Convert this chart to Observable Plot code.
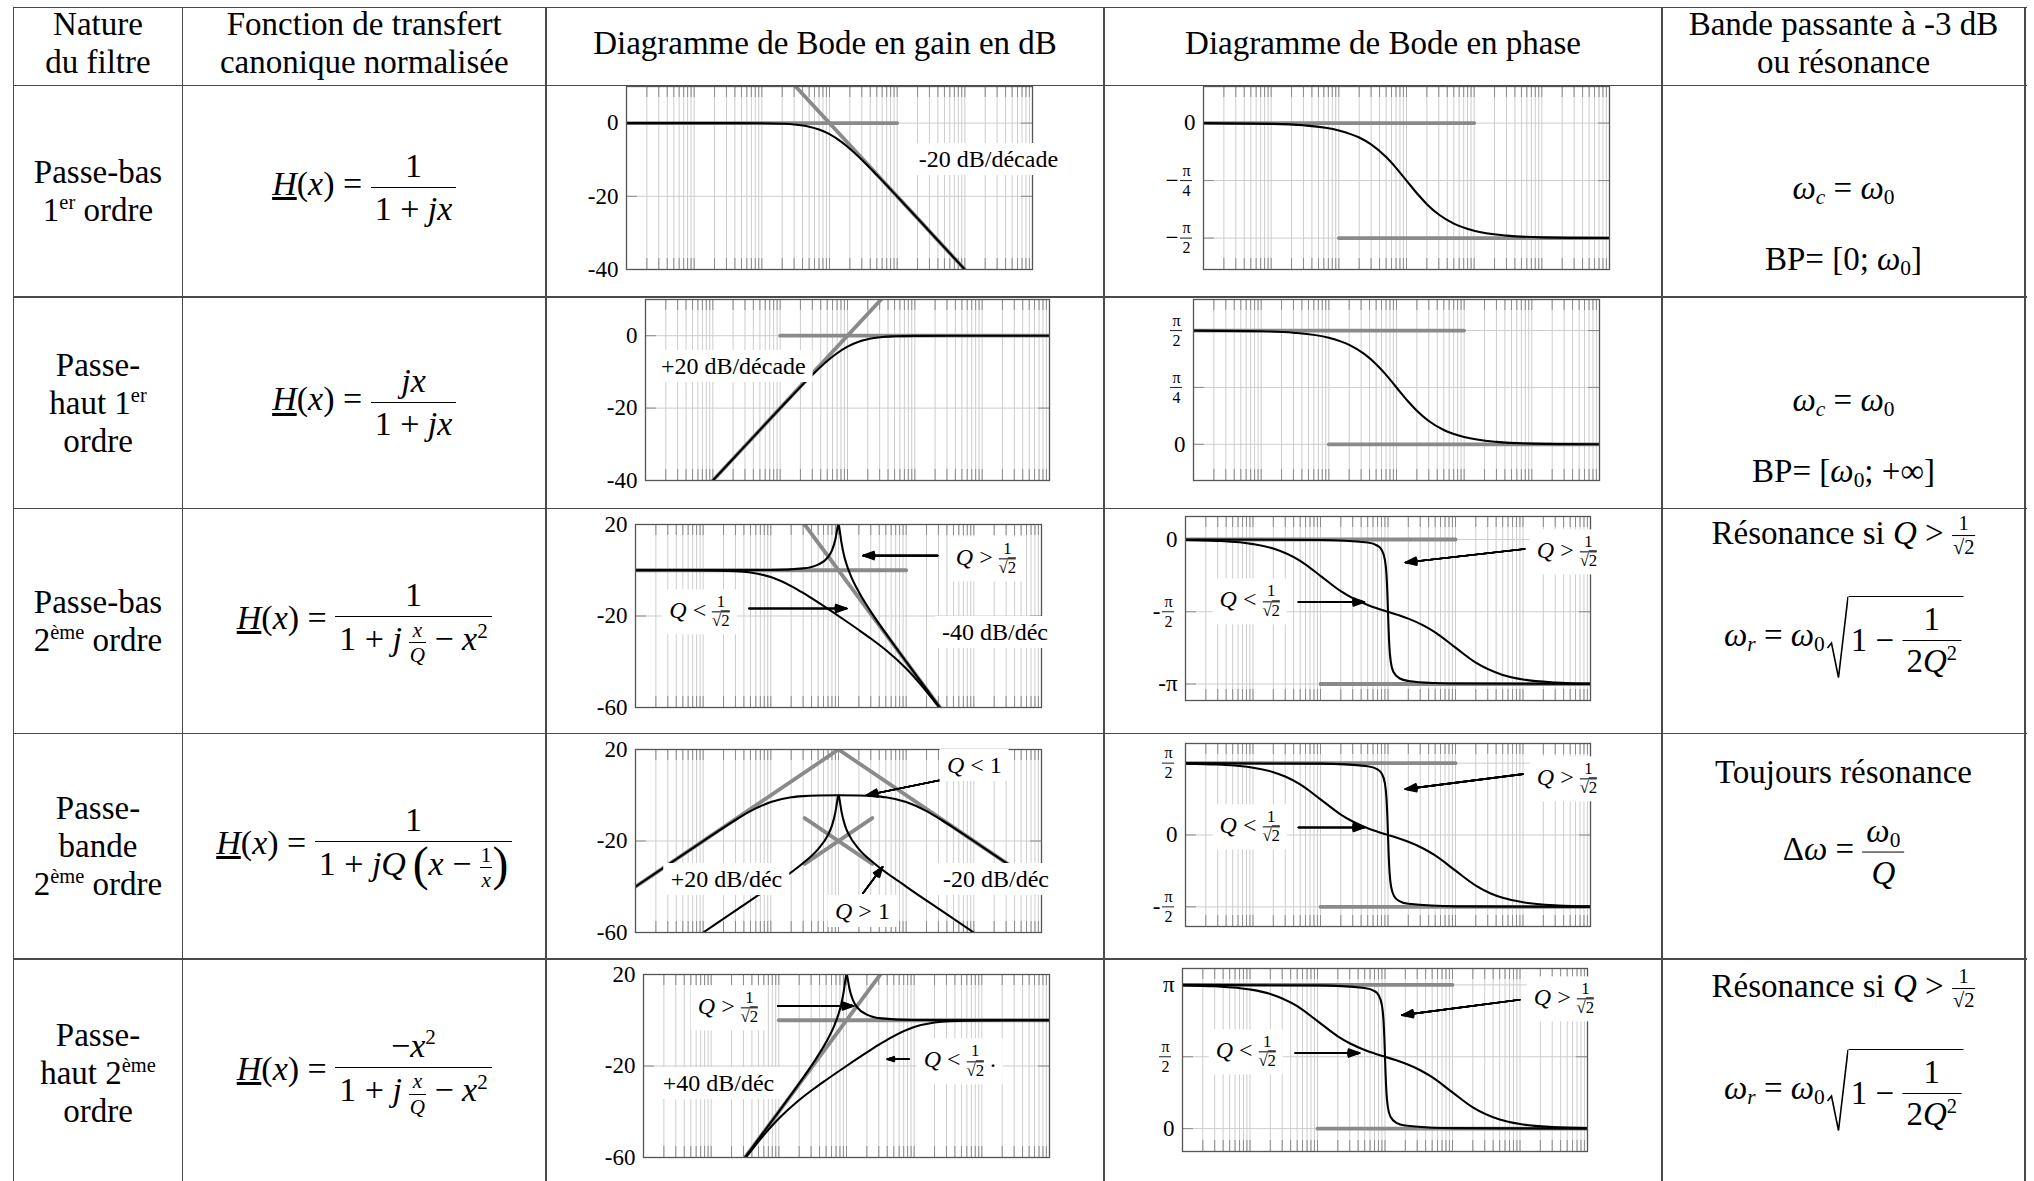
<!DOCTYPE html>
<html><head><meta charset="utf-8">
<script src="https://cdn.jsdelivr.net/npm/d3@7"></script>
<script src="https://cdn.jsdelivr.net/npm/@observablehq/plot@0.6"></script>
<style>
html,body{margin:0;padding:0;background:#fff}
#page{position:relative;width:2034px;height:1181px;overflow:hidden;background:#fff;font-family:"Liberation Serif","DejaVu Serif",serif;color:#000}
.hl{position:absolute;height:1.6px;background:#4a4a4a}
.vl{position:absolute;width:1.6px;background:#4a4a4a}
.cell{position:absolute;display:flex;align-items:center;justify-content:center;text-align:center;font-size:33px;line-height:38px}
.cell.m{font-size:34px}
.cell.h>div{transform:translateY(-4px)}
.ln{position:absolute;transform:translate(-50%,-50%);white-space:nowrap;font-size:33px;line-height:1}
.fr{display:inline-flex;flex-direction:column;vertical-align:middle;text-align:center;line-height:1.12}
.fr>.n{border-bottom:1.6px solid #000;padding:0 4px 2px}
.fr>.d{padding:2px 4px 0}
.fr.s{font-size:0.62em;line-height:1.05}
.fr.s>.n{border-bottom-width:1px;padding:0 1px 1px}
.fr.s>.d{padding:1px 1px 0}
sup{font-size:0.62em;vertical-align:0.6em;line-height:0}
sub{font-size:0.65em;vertical-align:-0.25em;line-height:0}
.bp{font-size:1.4em;vertical-align:-0.1em;line-height:0;font-weight:300}
.ov{border-top:1px solid #000}
.sq{display:inline-flex;vertical-align:middle;align-items:stretch;margin-left:2px}
.sq svg{width:22px;height:84px;display:block}
.sq .si{border-top:1.6px solid #000;padding:3px 2px 0 2px;display:inline-flex;align-items:center}
.lab{position:absolute;transform:translate(-50%,-50%);background:#fff;padding:4px 7px;font-size:24px;line-height:1;white-space:nowrap}
.lf{display:inline-flex;flex-direction:column;vertical-align:middle;font-size:0.7em;line-height:1.08;text-align:center;margin-left:0.35em}
.lf>span:first-child{border-bottom:1px solid #000;padding:0 2px}
</style></head><body><div id="page"></div>
<script>
// ---------- data (x = ω/ω0, gain in dB, phase in rad) ----------
const g1Curve = [[0.001,0],[0.01,0],[0.1,-0.04],[0.2,-0.17],[0.3,-0.37],[0.5,-0.97],[0.7,-1.73],[1,-3.01],[1.5,-5.12],[2,-6.99],[3,-10],[5,-14.15],[7,-16.99],[10,-20.04],[20,-26.02],[50,-33.98],[100,-40]];
const g1AsymFlat = [[0.001,0],[10,0]];
const g1AsymSlope = [[0.316,10],[100,-40]];
const p1Curve = [[0.001,0],[0.01,-0.01],[0.03,-0.03],[0.1,-0.0997],[0.2,-0.197],[0.3,-0.291],[0.5,-0.464],[0.7,-0.611],[1,-0.785],[1.5,-0.983],[2,-1.107],[3,-1.249],[5,-1.373],[10,-1.471],[30,-1.537],[100,-1.561],[1000,-1.570]];
const p1AsymLow = [[0.001,0],[10,0]];
const p1AsymHigh = [[0.1,-1.5708],[1000,-1.5708]];

const g2Curve = [[0.01,-40],[0.02,-34],[0.05,-26.03],[0.1,-20.04],[0.2,-14.15],[0.333,-10],[0.5,-6.99],[0.667,-5.12],[1,-3.01],[1.43,-1.73],[2,-0.97],[3.33,-0.37],[5,-0.17],[10,-0.04],[100,0],[1000,0]];
const g2AsymFlat = [[0.1,0],[1000,0]];
const g2AsymSlope = [[0.01,-40],[3.16,10]];
const p2Curve = [[0.001,1.570],[0.01,1.561],[0.03,1.541],[0.1,1.471],[0.2,1.373],[0.333,1.249],[0.5,1.107],[0.667,0.983],[1,0.785],[1.5,0.588],[2,0.464],[3,0.322],[5,0.197],[10,0.0997],[30,0.033],[100,0.01],[1000,0.001]];
const p2AsymLow = [[0.001,1.5708],[10,1.5708]];
const p2AsymHigh = [[0.1,0],[1000,0]];

const g3HighQ = [[0.001,0],[0.1,0.09],[0.3,0.81],[0.5,2.48],[0.7,5.77],[0.8,8.66],[0.9,13.55],[0.95,17.32],[0.98,19.52],[1,20],[1.02,19.19],[1.05,16.67],[1.1,12.5],[1.2,6.82],[1.3,3.07],[1.5,-2.0],[2,-9.56],[3,-18.07],[5,-27.6],[10,-39.9],[20,-52.0],[30,-59.08],[40,-64.1]];
const g3LowQ = [[0.001,0],[0.01,-0.04],[0.03,-0.37],[0.05,-0.95],[0.1,-2.97],[0.2,-6.92],[0.3,-9.92],[0.5,-14.08],[1,-20],[2,-26.12],[3,-29.84],[5,-34.88],[10,-42.97],[20,-52.99],[30,-59.53],[40,-64.3]];
const g3AsymFlat = [[0.001,0],[10,0]];
const g3AsymSlope = [[0.316,20],[31.6,-60]];
const p3HighQ = [[0.001,0],[0.1,-0.0101],[0.5,-0.0666],[0.7,-0.136],[0.8,-0.219],[0.9,-0.442],[0.95,-0.772],[0.98,-1.187],[1,-1.571],[1.02,-1.948],[1.05,-2.345],[1.1,-2.66],[1.2,-2.875],[1.5,-3.022],[2,-3.075],[5,-3.121],[10,-3.131],[1000,-3.1416]];
const p3LowQ = [[0.001,-0.01],[0.003,-0.03],[0.01,-0.1],[0.02,-0.197],[0.05,-0.464],[0.1,-0.79],[0.2,-1.123],[0.3,-1.276],[0.5,-1.422],[0.7,-1.498],[1,-1.571],[1.43,-1.644],[2,-1.72],[3.33,-1.866],[5,-2.018],[10,-2.351],[20,-2.677],[50,-2.943],[100,-3.042],[300,-3.108],[1000,-3.132]];
const p3AsymLow = [[0.001,0],[10,0]];
const p3AsymHigh = [[0.1,-3.1416],[1000,-3.1416]];

const g4LowQ = [[0.001,-40],[0.003,-30.46],[0.01,-20.04],[0.02,-14.15],[0.03,-10.82],[0.05,-6.97],[0.1,-2.97],[0.2,-0.9],[0.3,-0.38],[0.5,-0.1],[1,0],[2,-0.1],[3.33,-0.38],[5,-0.9],[10,-2.97],[20,-6.97],[33.3,-10.82],[50,-14.15],[100,-20.04],[333,-30.46],[1000,-40]];
const g4HighQ = [[0.01,-60],[0.03,-50.45],[0.1,-39.91],[0.3,-29.64],[0.5,-23.54],[0.7,-17.33],[0.8,-13.27],[0.9,-7.37],[0.95,-3.12],[0.98,-0.66],[1,0],[1.02,-0.66],[1.053,-3.12],[1.111,-7.37],[1.25,-13.27],[1.43,-17.33],[2,-23.54],[3.33,-29.64],[10,-39.91],[33.3,-50.45],[100,-60]];
const g4AsymLowQ = [[0.001,-40],[1,20],[1000,-40]];
const g4AsymHighQUp = [[0.316,-30],[3.16,-10]];
const g4AsymHighQDown = [[0.316,-10],[3.16,-30]];
const p4HighQ = [[0.001,1.5708],[0.1,1.5607],[0.5,1.5042],[0.7,1.4344],[0.8,1.3521],[0.9,1.1284],[0.95,0.7983],[0.98,0.3842],[1,0],[1.02,-0.3842],[1.053,-0.7983],[1.111,-1.1284],[1.25,-1.3521],[1.43,-1.4344],[2,-1.5042],[10,-1.5607],[1000,-1.5708]];
const p4LowQ = [[0.001,1.5608],[0.003,1.5408],[0.01,1.4711],[0.02,1.3734],[0.03,1.2793],[0.05,1.1063],[0.1,0.7803],[0.2,0.4475],[0.3,0.2945],[0.5,0.1489],[0.7,0.0727],[1,0],[1.43,-0.0727],[2,-0.1489],[3.33,-0.2945],[5,-0.4475],[10,-0.7803],[20,-1.1063],[33.3,-1.2793],[50,-1.3734],[100,-1.4711],[333,-1.5408],[1000,-1.5608]];
const p4AsymLow = [[0.001,1.5708],[10,1.5708]];
const p4AsymHigh = [[0.1,-1.5708],[1000,-1.5708]];

const g5HighQ = [[0.025,-64.1],[0.0333,-59.08],[0.05,-52.0],[0.1,-39.9],[0.2,-27.6],[0.333,-18.07],[0.5,-9.56],[0.667,-2.0],[0.769,3.07],[0.833,6.82],[0.909,12.5],[0.952,16.67],[0.98,19.19],[1,20],[1.02,19.52],[1.053,17.32],[1.111,13.55],[1.25,8.66],[1.43,5.77],[2,2.48],[3.33,0.81],[10,0.09],[1000,0]];
const g5LowQ = [[0.025,-64.3],[0.0333,-59.53],[0.05,-52.99],[0.1,-42.97],[0.2,-34.88],[0.333,-29.84],[0.5,-26.12],[1,-20],[2,-14.08],[3.33,-9.92],[5,-6.92],[10,-2.97],[20,-0.95],[33.3,-0.37],[100,-0.04],[1000,0]];
const g5AsymFlat = [[0.1,0],[1000,0]];
const g5AsymSlope = [[0.0316,-60],[3.16,20]];
const p5HighQ = [[0.001,3.1416],[0.1,3.1315],[0.5,3.075],[0.7,3.0056],[0.8,2.9226],[0.9,2.6996],[0.95,2.3696],[0.98,1.9546],[1,1.5708],[1.02,1.1936],[1.05,0.7966],[1.1,0.4816],[1.2,0.2666],[1.5,0.1196],[2,0.0666],[5,0.0206],[10,0.0101],[1000,0]];
const p5LowQ = [[0.001,3.1316],[0.003,3.1116],[0.01,3.0416],[0.02,2.9442],[0.05,2.6773],[0.1,2.3512],[0.2,2.0183],[0.3,1.8655],[0.5,1.7197],[0.7,1.6435],[1,1.5708],[1.43,1.4981],[2,1.4219],[3.33,1.2761],[5,1.1233],[10,0.7904],[20,0.4643],[50,0.1987],[100,0.1],[300,0.0336],[1000,0.01]];
const p5AsymLow = [[0.001,3.1416],[10,3.1416]];
const p5AsymHigh = [[0.1,0],[1000,0]];

// tick labels
const ticksG1 = [{v:0,t:"0"},{v:-20,t:"-20"},{v:-40,t:"-40"}];
const ticksG3 = [{v:20,t:"20"},{v:-20,t:"-20"},{v:-60,t:"-60"}];
const ticksP1 = [{v:0,t:"0"},{v:-0.7854,n:"π",d:"4",p:"−"},{v:-1.5708,n:"π",d:"2",p:"−"}];
const ticksP2 = [{v:1.5708,n:"π",d:"2"},{v:0.7854,n:"π",d:"4"},{v:0,t:"0"}];
const ticksP3 = [{v:0,t:"0"},{v:-1.5708,n:"π",d:"2",p:"-"},{v:-3.1416,t:"-π"}];
const ticksP4 = [{v:1.5708,n:"π",d:"2"},{v:0,t:"0"},{v:-1.5708,n:"π",d:"2",p:"-"}];
const ticksP5 = [{v:3.1416,t:"π"},{v:1.5708,n:"π",d:"2"},{v:0,t:"0"}];

// log grid (1..9 × 10^k)
const gridX = [];
for (let d = -3; d <= 2; d++) for (let k = 1; k <= 9; k++) gridX.push(+(k * 10 ** d).toPrecision(3));
gridX.push(1000);

// ---------- helpers ----------
const page = document.getElementById("page");
function el(cls, style, html) {
  const e = document.createElement("div");
  e.className = cls;
  Object.assign(e.style, style);
  if (html != null) e.innerHTML = html;
  page.appendChild(e);
  return e;
}
const fr = (n, d) => `<span class="fr"><span class="n">${n}</span><span class="d">${d}</span></span>`;
const sfr = (n, d) => `<span class="fr s"><span class="n">${n}</span><span class="d">${d}</span></span>`;
const lf = (n, d) => `<span class="lf"><span>${n}</span><span>${d}</span></span>`;
const R2 = `√<span class="ov">2</span>`;
const sqrt = inner => `<span class="sq"><svg viewBox="0 0 22 100" preserveAspectRatio="none"><polyline points="1,62 5,56 12,97 21.5,1" fill="none" stroke="#000" stroke-width="1.6" vector-effect="non-scaling-stroke"/></svg><span class="si">${inner}</span></span>`;
const EQ = "&nbsp;=&nbsp;";
const Hx = `<span style="text-decoration:underline"><i>H</i></span>(<i>x</i>)${EQ}`;
const QG = `<i>Q</i>&nbsp;&gt;${lf("1", R2)}`;
const QL = `<i>Q</i>&nbsp;&lt;${lf("1", R2)}`;

// ---------- table ----------
const cols = [13.5, 182.5, 546, 1104, 1662, 2025];
const rows = [7.5, 85.5, 297, 508.5, 733.5, 959, 1186];
for (let i = 0; i < 6; i++) el("hl", {left: cols[0] + "px", top: rows[i] - 0.8 + "px", width: cols[5] - cols[0] + 1.6 + "px"});
for (const c of cols) el("vl", {left: c - 0.8 + "px", top: rows[0] - 0.8 + "px", height: 1181 - rows[0] + 2 + "px"});

function cell(ci, ri, html, cls) {
  el("cell" + (cls ? " " + cls : ""), {left: cols[ci] + "px", top: rows[ri] + "px", width: cols[ci + 1] - cols[ci] + "px", height: rows[ri + 1] - rows[ri] + "px"}, "<div>" + html + "</div>");
}
cell(0, 0, "Nature<br>du filtre", "h");
cell(1, 0, "Fonction de transfert<br>canonique normalisée", "h");
cell(2, 0, "Diagramme de Bode en gain en dB", "h");
cell(3, 0, "Diagramme de Bode en phase", "h");
cell(4, 0, "Bande passante à -3 dB<br>ou résonance", "h");

cell(0, 1, "Passe-bas<br>1<sup>er</sup> ordre");
cell(0, 2, "Passe-<br>haut 1<sup>er</sup><br>ordre");
cell(0, 3, "Passe-bas<br>2<sup>ème</sup> ordre");
cell(0, 4, "Passe-<br>bande<br>2<sup>ème</sup> ordre");
cell(0, 5, "Passe-<br>haut 2<sup>ème</sup><br>ordre");

cell(1, 1, Hx + fr("1", "1 + <i>jx</i>"), "m h");
cell(1, 2, Hx + fr("<i>jx</i>", "1 + <i>jx</i>"), "m");
cell(1, 3, Hx + fr("1", "1 + <i>j</i>&thinsp;" + sfr("<i>x</i>", "<i>Q</i>") + " − <i>x</i><sup>2</sup>"), "m");
cell(1, 4, Hx + fr("1", "1 + <i>jQ</i>&thinsp;<span class='bp'>(</span><i>x</i> − " + sfr("1", "<i>x</i>") + "<span class='bp'>)</span>"), "m");
cell(1, 5, Hx + fr("−<i>x</i><sup>2</sup>", "1 + <i>j</i>&thinsp;" + sfr("<i>x</i>", "<i>Q</i>") + " − <i>x</i><sup>2</sup>"), "m");

const cx5 = (cols[4] + cols[5]) / 2;
function line(y, html) { el("ln", {left: cx5 + "px", top: y + "px"}, html); }
const wc = `<i>ω</i><sub><i>c</i></sub>${EQ}<i>ω</i><sub>0</sub>`;
const wr = `<i>ω</i><sub><i>r</i></sub>${EQ}<i>ω</i><sub>0</sub>` + sqrt("1&nbsp;−&nbsp;" + fr("1", "2<i>Q</i><sup>2</sup>"));
const reso = `Résonance si <i>Q</i> &gt; ` + sfr("1", R2);
line(188, wc);
line(259, `BP= [0; <i>ω</i><sub>0</sub>]`);
line(400, wc);
line(471, `BP= [<i>ω</i><sub>0</sub>; +∞]`);
line(536, reso);
line(638, wr);
line(772, "Toujours résonance");
line(852, `Δ<i>ω</i>${EQ}` + fr(`<i>ω</i><sub>0</sub>`, `<i>Q</i>`));
line(989, reso);
line(1091, wr);

// ---------- Bode panels ----------
const xy = {x: d => d[0], y: d => d[1]};
function panel(s) {
  const mL = 90, mR = 12, mT = 6, mB = 6;
  const dec = s.W / 6, tl = 11;
  const tY = tl / s.H * (s.hi - s.lo), tX = 10 ** (tl / dec);
  const tv = s.ticks.map(t => t.v);
  const plain = s.ticks.filter(t => t.t !== undefined);
  const fracs = s.ticks.filter(t => t.n !== undefined);
  const pres = fracs.filter(t => t.p);
  const arrows = s.arrows || [];
  const arrowOpts = {x1: "x1", y1: "y1", x2: "x2", y2: "y2", stroke: "#000", strokeWidth: 1.6, headLength: 11};
  const marks = [
    Plot.ruleX(gridX, {y1: s.lo, y2: s.hi, stroke: "#cdcdcd", strokeWidth: 1}),
    Plot.ruleY(tv, {x1: 1e-3, x2: 1e3, stroke: "#cdcdcd", strokeWidth: 1}),
    Plot.ruleX(gridX, {y1: s.hi, y2: s.hi - tY, stroke: "#8c8c8c", strokeWidth: 1}),
    Plot.ruleX(gridX, {y1: s.lo, y2: s.lo + tY, stroke: "#8c8c8c", strokeWidth: 1}),
    Plot.ruleY(tv, {x1: 1e-3, x2: 1e-3 * tX, stroke: "#8c8c8c", strokeWidth: 1}),
    Plot.ruleY(tv, {x1: 1e3 / tX, x2: 1e3, stroke: "#8c8c8c", strokeWidth: 1}),
    ...s.asym.map(a => Plot.line(a, {...xy, stroke: "#8a8a8a", strokeWidth: 3.8, clip: true})),
    ...s.curves.map(c => Plot.line(c, {...xy, curve: "monotone-x", stroke: "#000", strokeWidth: 2.1, clip: true})),
    Plot.frame({stroke: "#555", strokeWidth: 1.3}),
    Plot.text(plain, {y: "v", text: "t", frameAnchor: "left", textAnchor: "end", dx: -8, fontSize: 23}),
    Plot.text(fracs, {y: "v", text: "n", frameAnchor: "left", textAnchor: "middle", dx: -17, dy: -10, fontSize: 16}),
    Plot.text(fracs, {y: "v", text: "d", frameAnchor: "left", textAnchor: "middle", dx: -17, dy: 10, fontSize: 16}),
    Plot.ruleY(fracs, {y: "v", x1: 1e-3 * 10 ** (-23 / dec), x2: 1e-3 * 10 ** (-11 / dec), stroke: "#000", strokeWidth: 0.9}),
    Plot.text(pres, {y: "v", text: "p", frameAnchor: "left", textAnchor: "end", dx: -25, fontSize: 23}),
    // filled-looking arrow heads: a fan of heads with decreasing opening angle
    ...[40, 30, 20, 10, 3].map(a => Plot.arrow(arrows, {...arrowOpts, headAngle: a}))
  ];
  const svg = Plot.plot({
    width: s.W + mL + mR, height: s.H + mT + mB,
    marginLeft: mL, marginRight: mR, marginTop: mT, marginBottom: mB,
    x: {type: "log", domain: [1e-3, 1e3], axis: null},
    y: {domain: [s.lo, s.hi], axis: null},
    style: {fontFamily: '"Liberation Serif", "DejaVu Serif", serif', fontSize: "22px", background: "transparent", overflow: "visible", color: "#000"},
    marks
  });
  const left = s.L - mL, top = s.T - mT;
  svg.style.position = "absolute";
  svg.style.left = left + "px";
  svg.style.top = top + "px";
  page.appendChild(svg);
  const sx = svg.scale("x"), sy = svg.scale("y");
  for (const l of (s.labels || [])) {
    el("lab", {left: left + sx.apply(l.x) + "px", top: top + sy.apply(l.y) + "px"}, l.h);
  }
}

panel({L: 626.4, T: 86, W: 406, H: 183, lo: -40, hi: 10, ticks: ticksG1,
  asym: [g1AsymFlat, g1AsymSlope], curves: [g1Curve],
  labels: [{x: 224, y: -10, h: "-20 dB/décade"}]});
panel({L: 1203.3, T: 86, W: 406, H: 183, lo: -2, hi: 0.5, ticks: ticksP1,
  asym: [p1AsymLow, p1AsymHigh], curves: [p1Curve]});
panel({L: 644.7, T: 299, W: 404, H: 181, lo: -40, hi: 10, ticks: ticksG1,
  asym: [g2AsymFlat, g2AsymSlope], curves: [g2Curve],
  labels: [{x: 0.0207, y: -8.5, h: "+20 dB/décade"}]});
panel({L: 1193.4, T: 299, W: 406, H: 181, lo: -0.5, hi: 2, ticks: ticksP2,
  asym: [p2AsymLow, p2AsymHigh], curves: [p2Curve]});
panel({L: 634.6, T: 524, W: 406, H: 183, lo: -60, hi: 20, ticks: ticksG3,
  asym: [g3AsymFlat, g3AsymSlope], curves: [g3LowQ, g3HighQ],
  labels: [{x: 156, y: 4.7, h: QG}, {x: 0.0091, y: -18.5, h: QL}, {x: 212, y: -27.2, h: "-40 dB/déc"}],
  arrows: [{x1: 29.3, y1: 6.4, x2: 2.3, y2: 6.4}, {x1: 0.0474, y1: -16.7, x2: 1.33, y2: -16.7}]});
panel({L: 1185.4, T: 516, W: 405, H: 184, lo: -3.5, hi: 0.5, ticks: ticksP3,
  asym: [p3AsymLow, p3AsymHigh], curves: [p3LowQ, p3HighQ],
  labels: [{x: 451, y: -0.287, h: QG}, {x: 0.009, y: -1.358, h: QL}],
  arrows: [{x1: 106, y1: -0.206, x2: 1.81, y2: -0.499}, {x1: 0.0471, y1: -1.358, x2: 0.447, y2: -1.358}]});
panel({L: 634.6, T: 749.3, W: 406, H: 183, lo: -60, hi: 20, ticks: ticksG3,
  asym: [g4AsymLowQ, g4AsymHighQUp, g4AsymHighQDown], curves: [g4LowQ, g4HighQ],
  labels: [{x: 105, y: 13.1, h: "<i>Q</i> &lt; 1"}, {x: 0.0228, y: -36.7, h: "+20 dB/déc"}, {x: 219, y: -36.7, h: "-20 dB/déc"}, {x: 2.33, y: -50.7, h: "<i>Q</i> &gt; 1"}],
  arrows: [{x1: 31.5, y1: 6.58, x2: 2.59, y2: 0}, {x1: 2.3, y1: -42.8, x2: 4.49, y2: -31.3}]});
panel({L: 1185.4, T: 742.7, W: 405, H: 183, lo: -2, hi: 2, ticks: ticksP4,
  asym: [p4AsymLow, p4AsymHigh], curves: [p4LowQ, p4HighQ],
  labels: [{x: 451, y: 1.207, h: QG}, {x: 0.009, y: 0.157, h: QL}],
  arrows: [{x1: 99.5, y1: 1.331, x2: 1.81, y2: 1.003}, {x1: 0.0471, y1: 0.164, x2: 0.447, y2: 0.164}]});
panel({L: 643.1, T: 974.3, W: 406, H: 183, lo: -60, hi: 20, ticks: ticksG3,
  asym: [g5AsymFlat, g5AsymSlope], curves: [g5LowQ, g5HighQ],
  labels: [{x: 0.018, y: 5.48, h: QG}, {x: 48.1, y: -18.1, h: QL + " ."}, {x: 0.013, y: -27.7, h: "+40 dB/déc"}],
  arrows: [{x1: 0.0966, y1: 6.27, x2: 1.27, y2: 6.27}, {x1: 8.36, y1: -17, x2: 4.02, y2: -17}]});
panel({L: 1181.9, T: 967.7, W: 405, H: 183, lo: -0.5, hi: 3.5, ticks: ticksP5,
  asym: [p5AsymLow, p5AsymHigh], curves: [p5LowQ, p5HighQ],
  labels: [{x: 458, y: 2.816, h: QG}, {x: 0.00885, y: 1.668, h: QL}],
  arrows: [{x1: 99, y1: 2.816, x2: 1.79, y2: 2.481}, {x1: 0.0469, y1: 1.651, x2: 0.42, y2: 1.651}]});
</script></body></html>
